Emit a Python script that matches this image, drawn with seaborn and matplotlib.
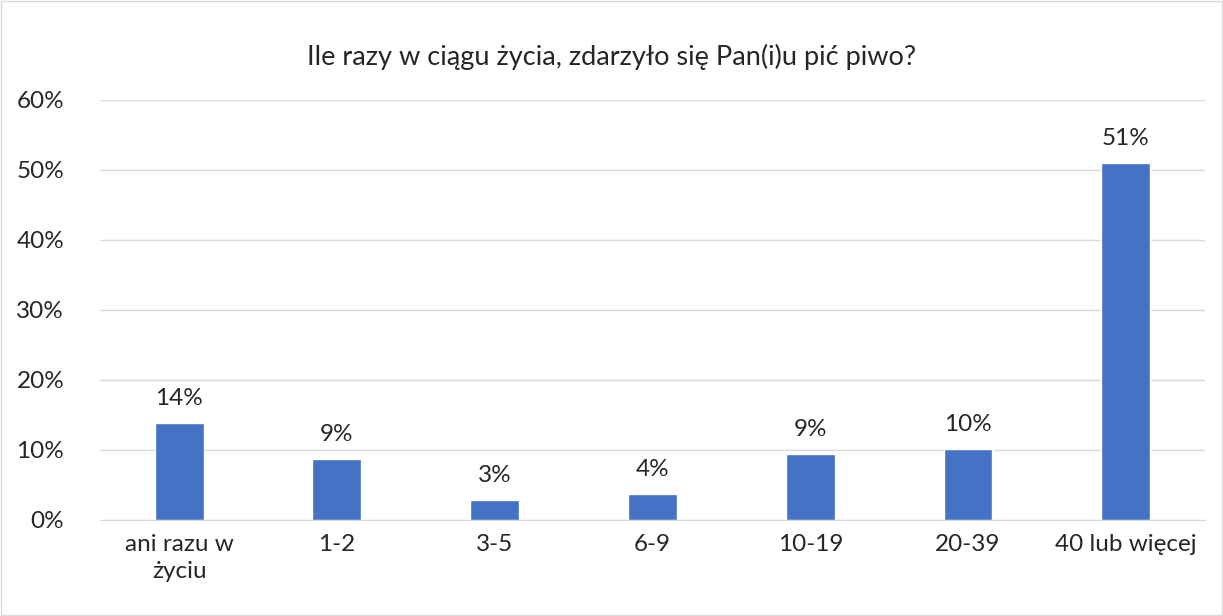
import matplotlib
matplotlib.use('Agg')
import matplotlib.pyplot as plt
import seaborn as sns
import pandas as pd

# data
categories = ['ani razu w\nżyciu', '1-2', '3-5', '6-9', '10-19', '20-39', '40 lub więcej']
values = [13.9, 8.7, 2.9, 3.7, 9.4, 10.1, 51.0]
labels = ['14%', '9%', '3%', '4%', '9%', '10%', '51%']
yticks = [0, 10, 20, 30, 40, 50, 60]

sns.set_style('white')
plt.rcParams['font.family'] = ['Lato', 'DejaVu Sans']

df = pd.DataFrame({'kat': categories, 'proc': values})

fig = plt.figure(figsize=(12.23, 6.16), dpi=100)
ax = fig.add_axes([0.082, 0.156, 0.903, 0.682])
sns.barplot(data=df, x='kat', y='proc', color='#4472C4', width=0.31, saturation=1, ax=ax)

for i, (v, t) in enumerate(zip(values, labels)):
    ax.text(i, v + 2.0, t, ha='center', va='bottom', fontsize=17.5, color='#262626')

ax.set_ylim(0, 60)
ax.set_xlim(-0.5, 6.5)
ax.set_yticks(yticks)
ax.set_yticklabels([f'{y}%' for y in yticks], fontsize=17.5, color='#262626')
ax.tick_params(axis='x', labelsize=17.5, labelcolor='#262626', length=0, pad=10)
ax.tick_params(axis='y', length=0, pad=26)
for lab in ax.get_xticklabels():
    lab.set_linespacing(1.35)
ax.set_xlabel('')
ax.set_ylabel('')
ax.yaxis.grid(True, color='#D9D9D9', linewidth=1)
ax.set_axisbelow(True)
for s in ['top', 'right', 'left']:
    ax.spines[s].set_visible(False)
ax.spines['bottom'].set_color('#D9D9D9')

fig.text(0.5, 0.907, 'Ile razy w ciągu życia, zdarzyło się Pan(i)u pić piwo?',
         ha='center', va='center', fontsize=19.5, color='#262626')

# thin frame round the whole chart
fig.patches.append(plt.Rectangle((0.001, 0.001), 0.998, 0.998, transform=fig.transFigure,
                                 fill=False, edgecolor='#D9D9D9', linewidth=1))

fig.savefig('out.png', dpi=100)
